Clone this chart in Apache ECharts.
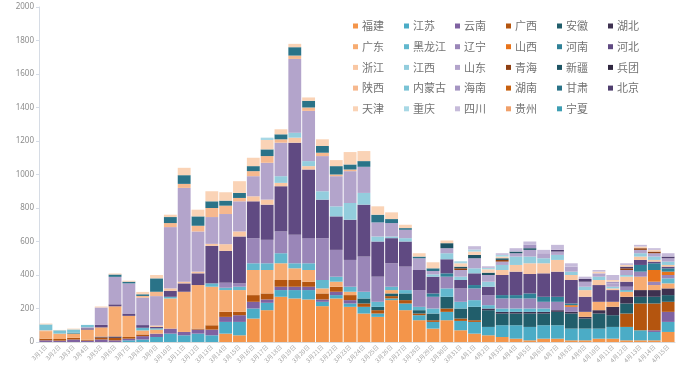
<!DOCTYPE html>
<html><head><meta charset="utf-8">
<script src="https://cdn.jsdelivr.net/npm/echarts@6/dist/echarts.min.js"></script>
<style>html,body{margin:0;padding:0;background:#fff}#c{width:677px;height:369px}</style>
</head><body><div id="c"></div>
<script>
const categories = ["3月1日","3月2日","3月3日","3月4日","3月5日","3月6日","3月7日","3月8日","3月9日","3月10日",
"3月11日","3月12日","3月13日","3月14日","3月15日","3月16日","3月17日","3月18日","3月19日","3月20日",
"3月21日","3月22日","3月23日","3月24日","3月25日","3月26日","3月27日","3月28日","3月29日","3月30日",
"3月31日","4月1日","4月2日","4月3日","4月4日","4月5日","4月6日","4月7日","4月8日","4月9日",
"4月10日","4月11日","4月12日","4月13日","4月14日","4月15日"];
const yTicks = [0,200,400,600,800,1000,1200,1400,1600,1800,2000];

const fujian = [0,0,0,0,0,0,0,0,0,0,0,0,0,50,40,140,190,270,260,254,214,260,210,170,150,250,190,130,80,130,70,50,40,30,20,10,20,20,10,10,20,20,10,10,10,60];
const jiangsu = [0,0,0,0,0,0,10,15,30,50,40,50,40,70,80,60,44,40,50,56,26,20,20,40,20,10,40,30,40,50,56,70,50,70,80,80,80,80,70,70,60,70,80,60,50,60];
const yunnan = [10,8,15,8,15,10,10,20,20,30,20,24,34,30,40,40,20,20,20,20,14,20,20,0,0,0,0,0,0,0,0,0,0,0,0,0,0,0,0,0,0,0,0,0,10,60];
const guangxi = [10,10,10,6,12,15,10,10,0,0,0,6,26,30,20,40,36,40,40,30,36,30,30,20,20,14,20,10,10,20,14,10,0,0,0,0,0,0,0,0,0,0,80,160,160,60];
const anhui = [0,0,0,0,0,0,0,0,0,0,0,0,0,0,0,0,0,0,0,0,0,0,0,30,20,16,40,20,40,70,60,80,100,70,70,80,70,80,90,60,90,70,60,40,40,40];
const hubei = [0,0,0,0,5,8,0,0,0,0,0,0,0,0,0,0,0,0,0,0,0,0,0,0,0,0,0,0,0,0,0,0,10,10,10,10,10,10,10,10,20,50,40,40,40,40];
const guangdong = [45,32,25,60,55,180,126,24,24,180,240,260,230,130,130,150,140,100,70,70,30,30,20,0,0,20,0,0,0,0,0,0,0,0,0,0,0,0,0,30,50,30,30,80,30,30];
const heilongjiang = [0,0,0,0,0,0,0,16,8,10,0,0,20,14,20,40,40,60,30,40,50,30,30,40,30,20,20,20,30,50,40,40,20,20,20,20,20,0,0,0,0,0,10,0,0,30];
const liaoning = [0,0,0,0,0,0,0,0,0,0,0,0,0,30,20,150,140,130,170,150,250,160,160,210,150,140,140,100,70,70,80,70,60,60,60,60,40,50,30,0,0,0,20,30,20,20];
const shanxi = [0,0,0,0,0,0,0,0,0,0,0,0,0,0,0,0,0,0,0,0,0,0,0,0,0,0,0,0,0,0,0,0,0,0,0,0,0,0,10,0,0,0,0,0,70,20];
const henan = [0,0,5,0,0,0,0,0,0,0,0,0,0,0,0,0,0,0,0,0,0,0,0,0,0,0,0,0,20,20,0,20,0,20,20,30,30,30,10,0,0,0,0,40,40,20];
const hebei = [0,0,0,8,15,12,14,16,8,36,50,70,224,190,280,220,210,270,550,410,230,200,240,310,210,150,150,120,100,84,50,70,50,120,140,116,140,150,140,90,100,70,30,30,10,10];
const zhejiang = [5,0,0,0,0,0,0,0,8,14,10,10,12,40,30,30,30,20,30,20,0,0,0,0,0,0,0,0,0,0,0,0,0,30,40,64,60,70,30,40,30,10,30,20,10,10];
const jiangxi = [0,0,0,0,0,0,0,0,0,0,0,0,0,0,0,0,0,40,30,30,50,60,100,70,30,10,20,0,14,36,20,30,30,30,50,40,30,30,20,20,20,10,10,20,20,20];
const shandong = [0,0,0,6,104,164,180,164,176,366,560,240,160,180,180,120,220,200,440,300,210,180,190,156,84,80,50,70,20,30,40,60,40,20,20,40,30,20,30,30,20,20,30,20,20,20];
const qinghai = [0,0,0,0,0,0,0,0,0,0,0,0,0,0,0,0,0,0,0,0,0,0,0,0,0,0,0,0,0,0,10,0,0,10,0,0,0,0,0,0,0,0,10,10,10,0];
const xinjiang = [0,0,0,0,0,0,0,0,0,0,0,0,0,0,0,0,0,0,0,0,0,0,0,0,0,0,0,0,0,30,10,20,14,10,10,10,0,0,0,0,0,0,0,0,0,0];
const bingtuan = [0,0,0,0,0,0,0,0,0,0,0,0,0,0,0,0,0,0,0,0,0,0,0,0,0,0,0,0,0,0,0,0,0,0,0,0,0,0,0,0,0,0,0,0,0,0];
const shaanxi = [0,0,0,0,0,0,0,10,26,24,24,34,54,50,20,30,40,20,20,20,20,10,10,0,0,0,0,0,0,0,0,0,0,0,0,0,0,0,0,0,0,0,0,0,0,0];
const neimenggu = [35,20,20,14,0,0,0,0,0,0,0,0,0,0,0,0,0,0,0,0,0,0,0,0,0,0,0,0,0,0,0,0,0,0,0,0,0,0,0,0,0,0,0,0,0,0];
const hainan = [0,0,0,0,0,0,0,0,0,0,0,0,0,0,0,0,0,0,0,0,0,0,0,0,0,0,0,0,0,0,0,0,0,0,0,20,0,0,0,0,0,10,0,0,0,0];
const hunan = [0,0,0,0,0,0,0,0,0,0,0,0,0,0,0,0,0,0,0,0,0,0,0,0,0,0,0,0,0,0,0,0,0,0,0,0,0,0,0,0,0,0,0,0,0,0];
const gansu = [0,0,0,0,0,14,10,10,80,36,52,56,40,30,30,30,40,30,50,40,40,50,30,34,46,24,10,10,16,0,0,0,0,0,0,0,0,0,0,0,0,0,0,0,0,0];
const beijing = [0,0,0,0,0,0,0,0,0,0,0,0,0,0,0,0,0,0,0,0,0,0,0,0,0,0,0,0,0,0,0,0,0,0,0,0,0,10,0,16,0,0,10,0,0,10];
const tianjin = [5,2,5,0,6,6,6,14,20,14,44,40,60,50,70,50,56,30,20,20,40,36,74,60,50,40,20,20,36,16,20,20,20,10,0,0,0,0,0,0,10,10,10,10,10,0];
const chongqing = [0,0,0,0,0,0,0,0,0,0,0,0,0,0,0,0,14,0,0,0,0,0,0,0,0,0,0,0,0,0,12,12,8,10,0,0,0,0,0,0,0,0,0,0,0,0];
const sichuan = [0,0,0,0,0,0,0,0,0,0,0,0,0,0,0,0,0,0,0,0,0,0,0,0,0,0,0,0,0,0,0,20,10,10,20,20,20,30,20,14,10,30,10,10,10,20];
const guizhou = [0,0,0,0,0,0,0,0,0,0,0,0,0,0,0,0,0,0,0,0,0,0,0,0,0,0,0,0,0,0,0,0,0,0,0,0,0,0,0,0,0,0,0,0,0,0];
const ningxia = [0,0,0,0,0,0,0,0,0,0,0,0,0,0,0,0,0,0,0,0,0,0,0,0,0,0,0,0,0,0,0,0,0,0,0,0,0,0,0,0,0,0,0,0,0,0];

const seriesNames = ["福建","江苏","云南","广西","安徽","湖北","广东","黑龙江","辽宁","山西","河南","河北",
"浙江","江西","山东","青海","新疆","兵团","陕西","内蒙古","海南","湖南","甘肃","北京","天津","重庆","四川","贵州","宁夏"];
const seriesValues = [fujian,jiangsu,yunnan,guangxi,anhui,hubei,guangdong,heilongjiang,liaoning,shanxi,henan,hebei,
zhejiang,jiangxi,shandong,qinghai,xinjiang,bingtuan,shaanxi,neimenggu,hainan,hunan,gansu,beijing,tianjin,chongqing,sichuan,guizhou,ningxia];

const palette = ["#F4954A","#4BACC6","#7F62A1","#B4550F","#215E6B","#3E3150",
"#F7AC72","#62B8CE","#9A86B8","#E8731A","#2F8197","#604A82",
"#F9C7A3","#93CDDD","#B3A4CB","#8E3F12","#1D5464","#2F263F",
"#F6B88E","#7AC3D5","#A595C2","#C7600F","#2A7388","#4F3E6E",
"#FAD3B6","#A8D8E5","#C6BBDA","#F0A06A","#3E9EB3"];

const chart = echarts.init(document.getElementById('c'), null, {renderer:'canvas'});
const series = seriesNames.map((n,i)=>({
  name:n, type:'bar', stack:'total', barCategoryGap:'7%',
  data: seriesValues[i], itemStyle:{color:palette[i]}
}));
const colLeft = [348,399,450,501,552,603];
const legends = colLeft.map((l,k)=>({
  orient:'vertical', left:l, top:15, itemWidth:5, itemHeight:5, itemGap:8.7, icon:'rect',
  selectedMode:false,
  data: seriesNames.filter((n,i)=>i%6===k),
  textStyle:{fontSize:11, lineHeight:12, color:'#737373', fontFamily:'Noto Sans CJK SC', padding:[0,0,0,-1]}
}));
chart.setOption({
  animation:false,
  color: palette,
  grid:{left:39, right:2, top:7, bottom:27, containLabel:false},
  legend: legends,
  xAxis:{type:'category', data:categories,
    axisLine:{lineStyle:{color:'#D9D9D9'}},
    axisTick:{show:false},
    axisLabel:{interval:0, rotate:45, fontSize:6, color:'#a6a6a6', margin:4, fontFamily:'Noto Sans CJK SC'}},
  yAxis:{type:'value', min:yTicks[0], max:yTicks[yTicks.length-1], interval:200,
    axisLine:{show:true, lineStyle:{color:'#D6DCE5'}},
    axisTick:{show:true, length:3, lineStyle:{color:'#D6DCE5'}},
    splitLine:{show:false},
    axisLabel:{fontSize:8, color:'#8c8c8c', margin:5, fontFamily:'Noto Sans', formatter:(v)=>String(v)}},
  series: series
});
</script></body></html>
